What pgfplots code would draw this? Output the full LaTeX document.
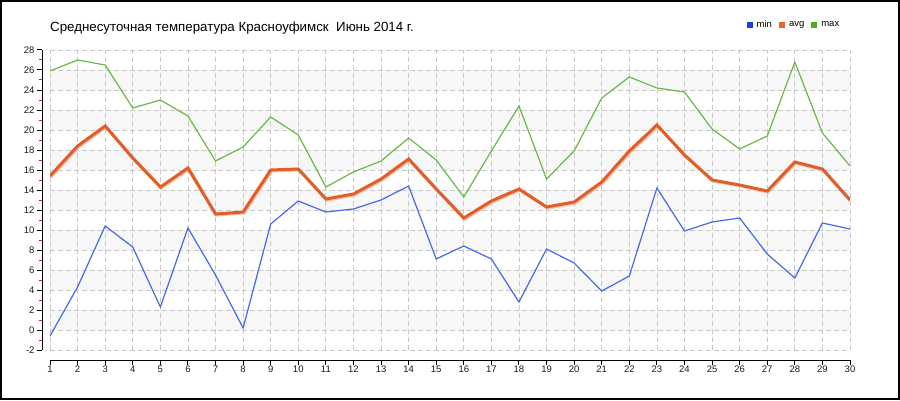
\documentclass[border=0pt]{standalone}
\usepackage{pgfplots}
\pgfplotsset{compat=1.18}
\usepackage{pgfplotstable}
\usepackage{fontspec}
\setmainfont{Liberation Sans}
\definecolor{cmin}{RGB}{70,105,235}
\definecolor{cavg}{RGB}{226,94,40}
\definecolor{cshadow}{RGB}{245,190,170}
\definecolor{cmax}{RGB}{105,185,70}
\definecolor{gridc}{RGB}{200,200,200}
\definecolor{band}{RGB}{247,247,247}
\definecolor{lmin}{RGB}{30,60,230}
\definecolor{lavg}{RGB}{235,100,50}
\definecolor{lmax}{RGB}{80,170,30}
\pgfplotstableread{
day min avg max
1 -0.6 15.4 25.9
2 4.3 18.4 27.0
3 10.4 20.4 26.5
4 8.3 17.2 22.2
5 2.3 14.3 23.0
6 10.2 16.2 21.4
7 5.5 11.6 16.9
8 0.2 11.8 18.3
9 10.6 16.0 21.3
10 12.9 16.1 19.5
11 11.8 13.1 14.3
12 12.1 13.6 15.8
13 13.0 15.1 16.9
14 14.4 17.1 19.2
15 7.1 14.1 17.0
16 8.4 11.2 13.3
17 7.1 12.9 17.9
18 2.8 14.1 22.4
19 8.1 12.3 15.1
20 6.7 12.8 17.9
21 3.9 14.8 23.2
22 5.4 17.9 25.3
23 14.2 20.5 24.2
24 9.9 17.5 23.8
25 10.8 15.0 20.1
26 11.2 14.5 18.1
27 7.6 13.9 19.4
28 5.2 16.8 26.8
29 10.7 16.1 19.7
30 10.1 13.0 16.4
}\data
\begin{document}
\begin{tikzpicture}
\useasboundingbox (0pt,0pt) rectangle (900pt,400pt);
\fill[white] (0pt,0pt) rectangle (900pt,400pt);
\foreach \v in {0,4,8,12,16,20,24}{
  \fill[band] (50pt,{50pt+(\v+2)*10pt}) rectangle (850pt,{50pt+(\v+4)*10pt});
}
\begin{axis}[
 at={(50pt,50pt)}, anchor=south west,
 scale only axis, width=800pt, height=300pt,
 xmin=1, xmax=30, ymin=-2, ymax=28,
 axis x line=bottom, axis y line=left,
 axis x line shift=10pt, axis y line shift=8pt,
 axis line style={-, line width=1pt, black},
 xtick={1,...,30}, ytick={-2,0,...,28},
 minor ytick={-1,1,...,27},
 tick align=outside,
 major tick length=5pt, minor tick length=3pt,
 every minor tick/.append style={red, line width=1pt},
 every major tick/.append style={black, line width=1pt},
 grid=major,
 major grid style={gridc, dash pattern=on 5pt off 3pt, line width=0.8pt},
 tick label style={font=\fontsize{9.5}{10}\selectfont, text=black!90},
 xticklabel style={yshift=3pt},
 yticklabel style={xshift=1pt},
 /pgf/number format/assume math mode=true,
 legend style={at={(0.93,1.083)}, anchor=center, draw=none, fill=none,
   font=\fontsize{9.5}{10}\selectfont, legend columns=-1,
   /tikz/every even column/.append style={column sep=5pt},
   /tikz/every odd column/.append style={column sep=2pt}},
 legend cell align=left,
 legend image code/.code={\fill[draw=none] (0pt,-2.5pt) rectangle (6pt,3.5pt);},
]
\addplot[forget plot, cmax, line width=1.2pt] table[x=day,y=max] {\data};
\addplot[forget plot, cmin, line width=1.2pt] table[x=day,y=min] {\data};
\addplot[forget plot, cshadow, line width=3pt, shift={(1pt,-1pt)}] table[x=day,y=avg] {\data};
\addplot[forget plot, cavg, line width=3pt] table[x=day,y=avg] {\data};
\addlegendimage{fill=lmin}
\addlegendentry{min}
\addlegendimage{fill=lavg}
\addlegendentry{avg}
\addlegendimage{fill=lmax}
\addlegendentry{max}
\end{axis}
\node[anchor=west, font=\fontsize{13.3}{15}\selectfont, inner sep=0] at (50pt,372pt) {Среднесуточная температура Красноуфимск\ \ Июнь 2014 г.};
\draw[black, line width=2pt] (1pt,1pt) rectangle (899pt,399pt);
\end{tikzpicture}
\end{document}
